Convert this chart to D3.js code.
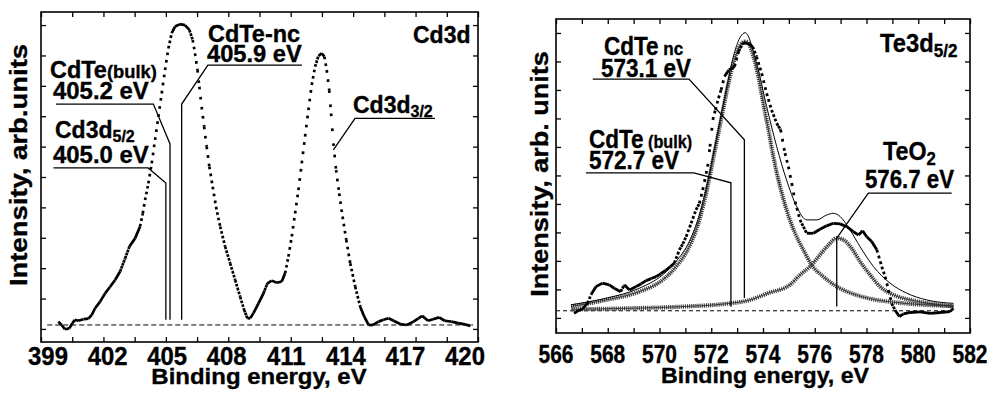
<!DOCTYPE html>
<html><head><meta charset="utf-8">
<script src="https://cdn.jsdelivr.net/npm/d3@7"></script>
<style>
body{margin:0;background:#fff}
svg{display:block}
text{font-family:"Liberation Sans",Arial,Helvetica,sans-serif;font-weight:bold;fill:#000;stroke:#000;stroke-width:0.35px}
</style>
</head><body>
<svg id="chart" width="990" height="394"></svg>
<script>
// ---------- Left panel: Cd3d spectrum ----------
const cdEnergy = [399.83,399.99,400.15,400.36,400.51,400.63,400.79,401.04,401.28,401.44,401.6,401.84,402.08,402.32,402.56,402.8,403.04,403.25,403.52,403.76,403.89,404.0,404.16,404.32,404.48,404.64,404.8,404.96,405.12,405.28,405.44,405.68,405.92,406.13,406.29,406.4,406.52,406.61,406.72,406.84,406.96,407.09,407.25,407.41,407.61,407.85,408.09,408.33,408.57,408.76,408.92,409.05,409.21,409.45,409.69,409.88,410.09,410.33,410.57,410.73,410.89,411.05,411.21,411.37,411.53,411.69,411.85,412.01,412.17,412.33,412.49,412.62,412.73,412.85,412.94,413.05,413.18,413.33,413.49,413.67,413.86,414.1,414.34,414.53,414.74,414.95,415.22,415.46,415.7,415.94,416.26,416.58,416.9,417.14,417.32,417.6,417.84,418.13,418.4,418.72,419.05,419.37,419.64];
const cdIntensity = [0.24,0.13,-0.01,0.02,0.19,0.30,0.27,0.32,0.34,0.46,0.68,0.9,1.17,1.39,1.61,1.89,2.32,2.71,2.98,3.37,3.8,4.24,4.79,5.45,6.22,6.98,7.75,8.52,9.23,9.73,9.95,10.03,10.0,9.84,9.51,9.07,8.52,7.97,7.31,6.66,6.0,5.34,4.68,4.02,3.37,2.71,2.16,1.61,1.06,0.63,0.35,0.35,0.52,0.84,1.17,1.5,1.59,1.52,1.56,1.83,2.38,3.04,3.8,4.57,5.45,6.33,7.2,8.03,8.63,8.98,9.07,8.96,8.52,7.86,7.09,6.11,5.23,4.46,3.7,2.93,2.16,1.39,0.73,0.41,0.13,0.13,0.24,0.3,0.35,0.27,0.16,0.13,0.24,0.35,0.43,0.27,0.32,0.38,0.27,0.24,0.19,0.15,0.1];
const cdTickLabels = [399,402,405,408,411,414,417,420];
const cdBaseline = 0.13;
// leader polylines [energy, intensity]
const cdLeaders = [
  [[405.0,0.3],[405.0,4.8],[404.15,5.3],[399.6,5.3]],
  [[405.2,0.3],[405.2,6.09],[404.4,7.4],[399.72,7.4]],
  [[405.76,0.3],[405.76,7.4],[407.02,8.68],[411.54,8.68]],
  [[413.05,5.89],[414.09,6.93],[417.93,6.93]]
];

// ---------- Right panel: Te3d5/2 spectrum ----------
const teEnergy = [566.7,566.85,567.0,567.22,567.35,567.55,567.8,568.06,568.25,568.5,568.64,568.84,569.1,569.3,569.48,569.68,569.87,570.05,570.25,570.42,570.57,570.77,570.9,571.03,571.22,571.41,571.54,571.67,571.86,571.95,572.06,572.16,572.28,572.38,572.51,572.68,572.9,573.06,573.22,573.41,573.6,573.75,573.95,574.14,574.33,574.53,574.68,574.85,574.98,575.11,575.24,575.43,575.69,575.95,576.2,576.46,576.72,576.98,577.24,577.49,577.69,577.85,578.01,578.2,578.4,578.59,578.72,578.85,578.97,579.1,579.27,579.43,579.68,580.07,580.46,580.84,581.23,581.36];
const teIntensity = [0.16,0.25,0.3,0.51,0.81,1.1,1.22,1.16,1.04,0.92,1.16,0.98,1.1,1.2,1.31,1.38,1.45,1.55,1.68,1.8,1.92,2.39,2.6,2.85,3.32,3.79,4.02,4.49,5.31,6.01,6.95,7.3,7.71,8.0,8.47,8.7,8.82,9.35,9.64,9.64,9.52,9.17,8.58,7.88,7.3,6.83,6.6,5.78,5.31,4.73,4.08,3.44,2.97,2.97,3.11,3.23,3.32,3.3,3.2,3.03,2.91,3.06,2.85,2.68,2.39,1.8,1.45,0.98,0.51,0.28,0.05,0.14,0.19,0.21,0.16,0.19,0.22,0.34];
const ncFitEnergy = [566.58,567.93,569.22,570.12,570.64,571.15,571.54,571.86,572.12,572.38,572.64,572.89,573.13,573.31,573.43,573.63,573.82,574.01,574.21,574.4,574.66,574.91,575.24,575.56,575.88,576.33,576.85,577.49,578.27,579.17,580.2,581.36];
const ncFitIntensity = [0.4,0.63,0.92,1.33,1.8,2.5,3.44,4.61,5.78,6.95,8.12,9.05,9.58,9.7,9.64,9.17,8.47,7.53,6.6,5.66,4.61,3.79,2.97,2.39,1.86,1.45,1.1,0.84,0.65,0.54,0.46,0.42];
const teo2FitEnergy = [566.6,569.0,571.0,572.5,573.5,574.2,575.04,575.43,575.88,576.2,576.53,576.85,577.11,577.43,577.75,578.14,578.52,579.04,579.81,580.59,581.36];
const teo2FitIntensity = [0.3,0.34,0.4,0.49,0.63,0.87,1.16,1.51,1.86,2.21,2.56,2.8,2.74,2.44,1.98,1.51,1.1,0.81,0.61,0.49,0.4];
const sumFitEnergy = [566.58,567.93,569.22,570.12,570.64,571.15,571.54,571.86,572.12,572.38,572.64,572.89,573.13,573.31,573.75,574.14,574.53,574.91,575.3,575.69,576.08,576.46,576.72,576.98,577.36,577.75,578.27,578.91,579.55,580.33,581.36];
const sumFitIntensity = [0.46,0.69,1.04,1.51,1.98,2.68,3.61,4.78,5.95,7.12,8.29,9.29,9.87,10.01,8.94,7.42,6.01,4.84,3.91,3.44,3.44,3.61,3.67,3.56,3.09,2.5,1.8,1.22,0.87,0.63,0.51];
const teTickLabels = [566,568,570,572,574,576,578,580,582];
const teBaseline = 0.25;
const teLeaders = [
  [[572.76,0.39],[572.76,4.74],[571.33,5.09],[567.16,5.09]],
  [[573.28,0.7],[573.28,6.25],[571.14,8.38],[567.42,8.38]],
  [[576.85,0.4],[576.85,2.8],[578.07,4.38],[581.29,4.38]]
];

// ---------- drawing ----------
const svg = d3.select("#chart");

function panel(o){
  const x = d3.scaleLinear().domain(o.xDomain).range(o.xRange);
  const y = d3.scaleLinear().domain(o.yDomain).range(o.yRange);
  const g = svg.append("g");
  const [x0,x1] = o.xRange, [y0,y1] = [o.yRange[1], o.yRange[0]];
  const tb = d3.axisBottom(x).tickValues(o.xTicks).tickSize(-5).tickFormat("");
  const tt = d3.axisTop(x).tickValues(o.xTicks).tickSize(-5).tickFormat("");
  const tl = d3.axisLeft(y).tickValues(d3.range(0,11)).tickSize(-5).tickFormat("");
  const tr = d3.axisRight(y).tickValues(d3.range(0,11)).tickSize(-5).tickFormat("");
  [[tb,`translate(0,${y1})`],[tt,`translate(0,${y0})`],[tl,`translate(${x0},0)`],[tr,`translate(${x1},0)`]].forEach(([ax,tf])=>{
    const a = g.append("g").attr("transform",tf).call(ax);
    a.select(".domain").remove();
    a.selectAll("line").attr("stroke","#000").attr("stroke-width",1.3);
  });
  g.append("rect").attr("x",x0).attr("y",y0).attr("width",x1-x0).attr("height",y1-y0)
    .attr("fill","none").attr("stroke","#000").attr("stroke-width",1.6);
  const lx = d3.scaleLinear().domain(o.xDomain).range(o.labelRange);
  o.labels.forEach(v=>{
    g.append("text").attr("text-anchor","middle")
      .attr("transform",`translate(${lx(v)},${o.labelY}) scale(${o.labelSX},1)`)
      .style("font-size",o.labelSize+"px").text(v);
  });
  return {x,y,g};
}

function dashedBase(p,e0,e1,k,dash){
  p.g.append("line").attr("x1",p.x(e0)).attr("x2",p.x(e1)).attr("y1",p.y(k)).attr("y2",p.y(k))
    .attr("stroke","#000").attr("stroke-width",1).attr("stroke-dasharray",dash);
}
function leaders(p,list){
  const ln = d3.line().x(d=>p.x(d[0])).y(d=>p.y(d[1]));
  list.forEach(pts=>p.g.append("path").attr("d",ln(pts)).attr("fill","none").attr("stroke","#000").attr("stroke-width",1.3));
}
// Dotted spectrum: each segment between read points gets a dash pattern so dots
// fall at a constant horizontal pitch (like an instrument's fixed energy step).
function dottedSpectrum(p,pts,pitch,dot){
  const ln = d3.line().x(d=>p.x(d[0])).y(d=>p.y(d[1]));
  for(let i=0;i<pts.length-1;i++){
    const a=pts[i], b=pts[i+1];
    const dx=Math.abs(p.x(b[0])-p.x(a[0])), dy=Math.abs(p.y(b[1])-p.y(a[1]));
    const len=Math.hypot(dx,dy), n=Math.max(dx/pitch,1), sp=len/n;
    const path=p.g.append("path").attr("d",ln([a,b])).attr("fill","none")
      .attr("stroke","#000").attr("stroke-width",dot);
    if(sp>dot*1.15) path.attr("stroke-dasharray",`${dot} ${sp-dot}`);
  }
}
function label(parts,x,y,size,sx){
  const t = svg.append("text").attr("transform",`translate(${x},${y}) scale(${sx},1)`).style("font-size",size+"px");
  parts.forEach(pp=>{
    const s = t.append("tspan").text(pp[0]).style("font-size",(pp[1]||size)+"px");
    if(pp[2]) s.attr("dy",pp[2]);
  });
}

// Left
const L = panel({xDomain:[399,420],xRange:[41,478],yDomain:[-0.43,10.43],yRange:[342,12],
  xTicks:d3.range(399,420.01,1.5),labels:cdTickLabels,labelRange:[48,465],labelY:365,labelSize:26,labelSX:0.92});
dashedBase(L,399.3,419.76,cdBaseline,"5,3");
dottedSpectrum(L,d3.zip(cdEnergy,cdIntensity),1.15,2.7);
leaders(L,cdLeaders);

// Right
const R = panel({xDomain:[566,582],xRange:[556,970],yDomain:[-0.53,10.49],yRange:[333,19],
  xTicks:d3.range(566,582.01,1),labels:teTickLabels,labelRange:[556,970],labelY:363,labelSize:25,labelSX:0.84});
dashedBase(R,566,581.34,teBaseline,"4,3");
const lineR = d3.line().curve(d3.curveMonotoneX).x(d=>R.x(d[0])).y(d=>R.y(d[1]));
[[ncFitEnergy,ncFitIntensity],[teo2FitEnergy,teo2FitIntensity]].forEach(([e,i])=>{
  R.g.append("path").attr("d",lineR(d3.zip(e,i))).attr("fill","none")
    .attr("stroke","#444").attr("stroke-width",4.2).attr("stroke-dasharray","1.2 0.9");
  R.g.append("path").attr("d",lineR(d3.zip(e,i))).attr("fill","none")
    .attr("stroke","#222").attr("stroke-width",0.8);
});
R.g.append("path").attr("d",lineR(d3.zip(sumFitEnergy,sumFitIntensity))).attr("fill","none")
  .attr("stroke","#000").attr("stroke-width",1);
dottedSpectrum(R,d3.zip(teEnergy,teIntensity),1.7,2.8);
leaders(R,teLeaders);

// Left annotations
label([["Cd3d"]],413,43,23,1.0);
label([["CdTe-nc"]],208,42,23,1.02);
label([["405.9 eV"]],207,62,23,1.03);
label([["CdTe"],["(bulk)",18]],50,78,23,1.02);
label([["405.2 eV"]],53,99,23,1.04);
label([["Cd3d"],["5/2",16,4]],55,138,23,1.0);
label([["405.0 eV"]],53,163,23,1.04);
label([["Cd3d"],["3/2",16,4]],353,113,23,1.0);

// Right annotations
label([["CdTe"],[" nc",19]],604,55,25,0.9);
label([["573.1 eV"]],601,77,25,0.9);
label([["CdTe"],[" (bulk)",18]],589,148,25,0.9);
label([["572.7 eV"]],589,169,25,0.9);
label([["Te3d"],["5/2",18,5]],880,52,25,0.95);
label([["TeO"],["2",18,5]],883,160,25,0.93);
label([["576.7 eV"]],865,188,25,0.89);

// Axis titles
svg.append("text").attr("text-anchor","middle").attr("transform","translate(259,384) scale(1.09,1)")
  .style("font-size","22px").text("Binding energy, eV");
svg.append("text").attr("text-anchor","middle").attr("transform","translate(765,383) scale(1.03,1)")
  .style("font-size","22.5px").text("Binding energy, eV");
svg.append("text").attr("text-anchor","middle").attr("transform","translate(27,165) rotate(-90) scale(1.145,1)")
  .style("font-size","24px").text("Intensity, arb.units");
svg.append("text").attr("text-anchor","middle").attr("transform","translate(548,174) rotate(-90) scale(1.127,1)")
  .style("font-size","24px").text("Intensity, arb. units");
</script>
</body></html>
